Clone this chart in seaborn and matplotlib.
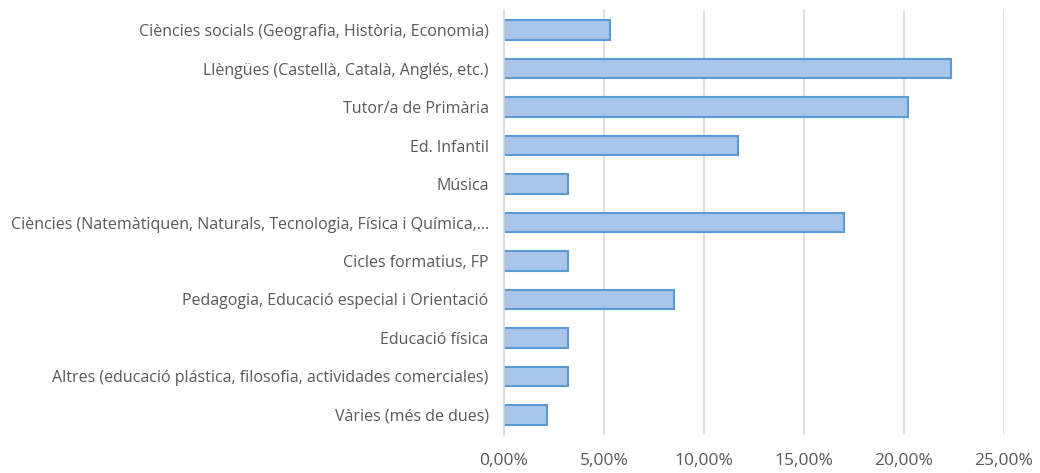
import pandas as pd
import matplotlib as mpl
import matplotlib.pyplot as plt
import seaborn as sns
from matplotlib.ticker import FuncFormatter

categories = [
    "Ciències socials (Geografia, Història, Economia)",
    "Llèngües (Castellà, Català, Anglés, etc.)",
    "Tutor/a de Primària",
    "Ed. Infantil",
    "Música",
    "Ciències (Natemàtiquen, Naturals, Tecnologia, Física i Química,…",
    "Cicles formatius, FP",
    "Pedagogia, Educació especial i Orientació",
    "Educació física",
    "Altres (educació plástica, filosofia, actividades comerciales)",
    "Vàries (més de dues)",
]
percentages = [5.32, 22.34, 20.21, 11.70, 3.19, 17.02, 3.19, 8.51, 3.19, 3.19, 2.13]
x_ticks = [0, 5, 10, 15, 20, 25]

sns.set_theme(style="white")
plt.rcParams['font.family'] = ['Open Sans', 'DejaVu Sans']

data = pd.DataFrame({"categoria": categories, "pct": percentages})

fig = plt.figure(figsize=(10.4, 4.73), dpi=100)
ax = fig.add_axes([504 / 1040, 1 - 435 / 473, 500 / 1040, 425 / 473])

sns.barplot(data=data, x="pct", y="categoria", orient="h", ax=ax,
            color="#a9c5e9", edgecolor="#5b9bd5", linewidth=1.5, width=0.5,
            saturation=1)

ax.set_xlim(0, 25)
ax.set_ylim(10.52, -0.52)
ax.set_xticks(x_ticks)
ax.xaxis.set_major_formatter(FuncFormatter(lambda v, p: "{:.2f}%".format(v).replace(".", ",")))
ax.grid(axis="x", color="#d9d9d9", linewidth=1.2)
ax.set_axisbelow(True)
for s in ["top", "right", "bottom"]:
    ax.spines[s].set_visible(False)
ax.spines["left"].set_color("#d9d9d9")
ax.spines["left"].set_linewidth(1.2)
ax.set_xlabel("")
ax.set_ylabel("")
ax.tick_params(axis="x", length=0, pad=13, labelsize=12.5, labelcolor="#595959")
ax.tick_params(axis="y", length=0, pad=11, labelsize=11.5, labelcolor="#595959")

fig.savefig("out.png", dpi=100)
